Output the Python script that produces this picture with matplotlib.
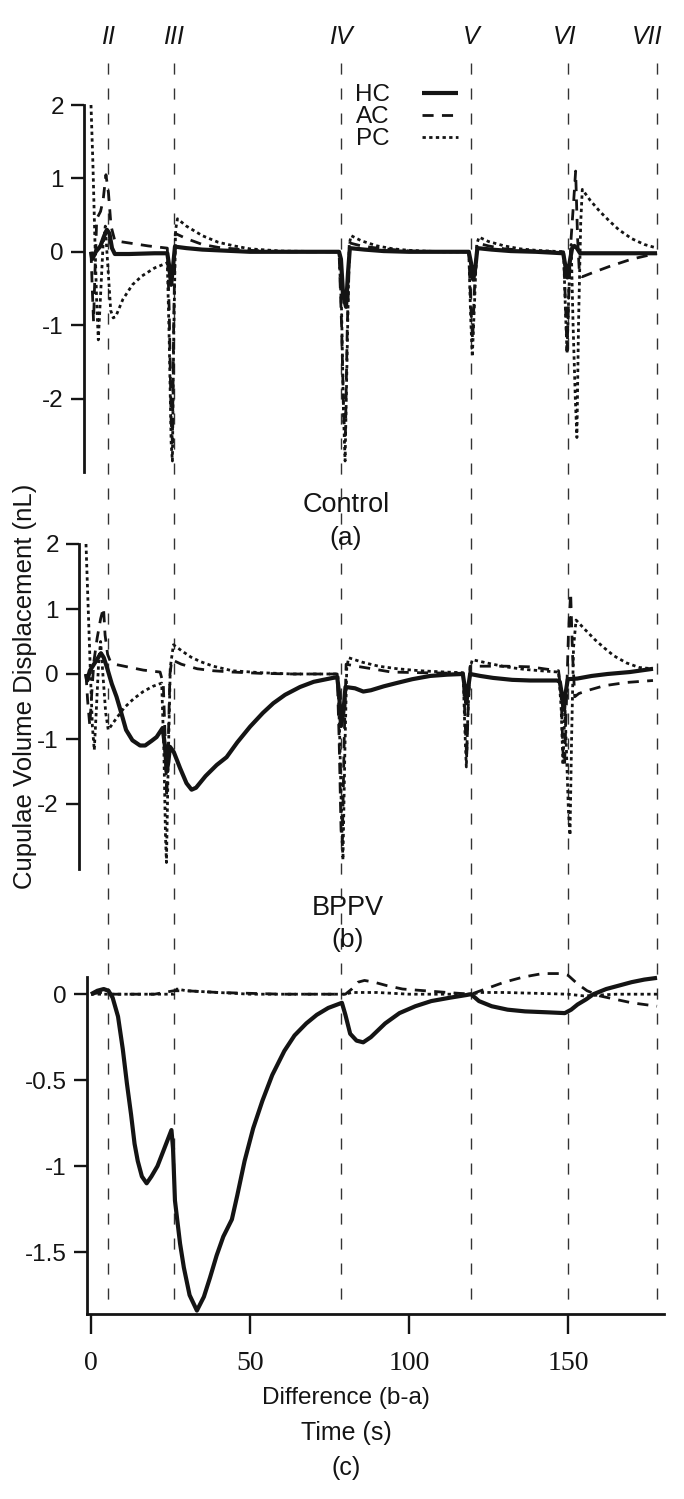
import matplotlib
matplotlib.use('Agg')
import matplotlib.pyplot as plt
from matplotlib.lines import Line2D
from matplotlib.transforms import blended_transform_factory

plt.rcParams['font.family'] = ['Liberation Sans', 'DejaVu Sans']
plt.rcParams['axes.unicode_minus'] = False

# ---------------- data (time s, cupula volume displacement nL) ----------------
event_t = [5.5, 26.0, 78.5, 119.5, 150.0, 178.0]
event_labels = ['II', 'III', 'IV', 'V', 'VI', 'VII']

# (a) Control
hc_a = [(0, 0), (0.4, -0.1), (1.5, 0.0), (3, 0.08), (4, 0.2), (5, 0.3), (5.8, 0.25), (6.6, 0.05),
        (7.5, -0.03), (12, -0.03), (20, -0.02), (24, -0.02), (24.6, -0.2), (25.2, -0.45), (25.8, -0.2),
        (26.4, 0.07), (30, 0.05), (35, 0.03), (40, 0.02), (50, 0.0), (78, 0.0), (78.6, -0.1),
        (79.3, -0.6), (80.2, -0.75), (80.8, -0.3), (81.4, 0.05), (86, 0.03), (92, 0.01), (100, 0.0),
        (118.8, 0.0), (119.5, -0.15), (120.2, -0.38), (120.9, -0.2), (121.5, 0.05), (126, 0.03),
        (132, 0.01), (140, 0.0), (148.5, -0.02), (149.2, -0.2), (149.8, -0.35), (150.5, -0.15),
        (151.3, 0.05), (152, 0.08), (152.8, 0.05), (153.8, -0.02), (165, -0.02), (178, -0.02)]
ac_a = [(0, 0), (0.4, -0.5), (0.8, -0.95), (1.3, -0.2), (1.8, 0.45), (3, 0.55), (3.8, 0.7), (4.7, 1.05),
        (5.5, 0.8), (6.3, 0.35), (7.5, 0.15), (12, 0.12), (18, 0.08), (24, 0.05), (24.6, -0.8),
        (25.2, -2.3), (25.6, -2.6), (26.0, -1.0), (26.5, 0.25), (30, 0.18), (35, 0.1), (40, 0.06),
        (50, 0.02), (60, 0.0), (78, 0.0), (78.8, -1.0), (79.5, -2.3), (80.0, -2.5), (80.6, -1.0),
        (81.4, 0.12), (85, 0.08), (90, 0.05), (100, 0.01), (118.8, 0.0), (119.5, -0.8), (120.0, -1.2),
        (120.6, -0.5), (121.5, 0.12), (125, 0.08), (130, 0.04), (140, 0.01), (148.6, 0.0),
        (149.2, -0.7), (149.7, -1.35), (150.3, -0.5), (151.0, 0.2), (151.8, 0.7), (152.4, 1.1),
        (153.0, 0.2), (153.6, -0.3), (154.5, -0.34), (158, -0.28), (163, -0.2), (170, -0.1), (178, -0.02)]
pc_a = [(0, 2.0), (0.6, 1.2), (1.2, 0.2), (1.8, -0.7), (2.3, -1.2), (3.0, -0.6), (3.8, 0.1), (4.5, 0.35),
        (5.3, -0.2), (6.2, -0.8), (7.0, -0.9), (7.8, -0.88), (10, -0.65), (13, -0.45), (16, -0.33),
        (20, -0.22), (24, -0.15), (24.6, -1.2), (25.2, -2.6), (25.6, -2.85), (26.0, -1.2), (26.6, 0.3),
        (27.2, 0.45), (30, 0.35), (35, 0.22), (40, 0.13), (45, 0.08), (50, 0.04), (60, 0.01), (78, 0.0),
        (78.8, -0.8), (79.4, -2.2), (79.9, -2.85), (80.5, -1.5), (81.2, 0.1), (81.8, 0.22), (85, 0.15),
        (90, 0.08), (95, 0.04), (100, 0.02), (110, 0.0), (118.8, 0.0), (119.4, -0.9), (119.9, -1.43),
        (120.6, -0.7), (121.3, 0.1), (122, 0.2), (125, 0.14), (130, 0.08), (135, 0.04), (140, 0.02),
        (148.6, 0.0), (149.2, -0.8), (149.7, -1.38), (150.3, -0.5), (151.0, 0.1), (151.6, -1.0),
        (152.3, -2.0), (152.8, -2.53), (153.3, -1.0), (154.0, 0.4), (154.5, 0.85), (157, 0.7),
        (160, 0.55), (163, 0.42), (166, 0.3), (170, 0.18), (174, 0.1), (178, 0.05)]

# (b) BPPV
hc_b = [(0, 0), (0.4, -0.1), (1.2, 0.05), (2.5, 0.15), (4.7, 0.32), (5.6, 0.25), (6.6, 0.1), (8.1, -0.15),
        (9.6, -0.35), (11.1, -0.6), (12.6, -0.86), (14.6, -1.02), (17, -1.1), (18.6, -1.1), (20.6, -1.03),
        (22.2, -0.97), (24.1, -0.83), (24.8, -1.1), (25.4, -1.5), (25.9, -1.35), (26.4, -1.12),
        (27.6, -1.2), (29.6, -1.45), (31.6, -1.68), (33.2, -1.78), (34.6, -1.75), (37.6, -1.57),
        (41.1, -1.4), (44.2, -1.28), (47.6, -1.05), (51.6, -0.81), (55.6, -0.6), (58.9, -0.45),
        (62.6, -0.32), (67.3, -0.2), (71.6, -0.12), (77.6, -0.06), (79.0, -0.05), (79.6, -0.3),
        (80.2, -0.8), (80.9, -0.6), (81.6, -0.2), (84.6, -0.22), (87.2, -0.27), (89.6, -0.25),
        (93.6, -0.19), (97.6, -0.14), (102.6, -0.08), (108.2, -0.03), (113.6, -0.01), (118.5, 0.0),
        (119.1, -0.2), (119.6, -0.45), (120.2, -0.2), (120.8, 0.0), (124, -0.03), (128, -0.06),
        (134, -0.09), (139.6, -0.1), (148.1, -0.1), (149.0, -0.12), (149.6, -0.3), (150.2, -0.55),
        (150.8, -0.3), (151.5, -0.08), (154.5, -0.07), (159, -0.03), (164, 0.0), (171, 0.03),
        (178.3, 0.08)]
ac_b = [(0, 0), (0.5, -0.4), (1.2, -0.8), (1.8, -0.3), (2.5, 0.2), (3.5, 0.55), (4.6, 0.85), (5.5, 1.02),
        (6.0, 0.6), (6.8, 0.3), (7.6, 0.2), (9, 0.15), (13, 0.11), (18, 0.06), (23.3, 0.03),
        (24.3, -0.15), (24.9, -1.0), (25.4, -1.9), (25.9, -1.0), (26.4, 0.0), (27, 0.22), (30, 0.15),
        (35, 0.08), (40, 0.05), (46, 0.03), (55, 0.01), (65, 0.0), (79.0, 0.0), (79.6, -1.0),
        (80.2, -2.4), (80.6, -2.6), (81.2, -1.0), (81.8, 0.15), (85, 0.12), (90, 0.08), (96, 0.03),
        (105, 0.02), (118.6, 0.01), (119.2, -0.7), (119.7, -1.3), (120.2, -0.5), (120.8, 0.12),
        (126, 0.12), (132, 0.12), (140, 0.11), (144, 0.08), (148.6, 0.05), (149.4, -0.3), (150.0, -1.2),
        (150.5, -1.4), (151.1, -0.4), (151.7, 0.6), (152.4, 1.25), (153.0, 0.3), (153.7, -0.35),
        (155, -0.3), (158, -0.25), (163, -0.18), (170, -0.13), (178.3, -0.1)]
pc_b = [(0, 2.0), (0.7, 1.0), (1.4, 0.0), (2.0, -0.8), (2.6, -1.17), (3.3, -0.5), (4.0, 0.2), (4.6, 0.5),
        (5.3, 0.0), (6.2, -0.6), (7.0, -0.86), (9, -0.72), (12, -0.52), (15, -0.38), (18, -0.27),
        (21, -0.19), (23.8, -0.14), (24.5, -1.2), (25.0, -2.5), (25.3, -2.9), (25.8, -1.5), (26.5, 0.1),
        (27.5, 0.45), (30, 0.36), (33, 0.26), (36, 0.19), (40, 0.12), (46, 0.05), (55, 0.02), (65, 0.0),
        (79.2, 0.0), (79.8, -1.0), (80.4, -2.3), (80.8, -2.86), (81.4, -1.2), (82.0, 0.1), (82.6, 0.25),
        (87, 0.18), (92, 0.12), (98, 0.08), (105, 0.05), (113, 0.03), (118.6, 0.02), (119.1, -0.8),
        (119.6, -1.43), (120.1, -0.6), (120.8, 0.1), (121.5, 0.22), (127, 0.16), (132, 0.11),
        (138, 0.07), (143, 0.05), (148.6, 0.03), (149.4, -0.5), (150.0, -1.4), (150.6, -0.5),
        (151.1, -1.2), (151.7, -2.1), (152.2, -2.48), (152.7, -1.0), (153.3, 0.4), (154.1, 0.83),
        (157, 0.68), (160, 0.53), (163, 0.4), (166, 0.28), (170, 0.17), (174, 0.1), (178.3, 0.08)]

# (c) Difference (b-a)
hc_c = [(0, 0), (2, 0.02), (4, 0.03), (5.5, 0.02), (6.8, -0.02), (8.5, -0.13), (10, -0.32), (11.3, -0.52),
        (12.6, -0.7), (13.7, -0.87), (14.7, -0.97), (16, -1.06), (17.5, -1.1), (19, -1.06), (20.9, -1.0),
        (23, -0.9), (25.3, -0.79), (25.8, -0.9), (26.4, -1.2), (28, -1.45), (29.2, -1.59), (31, -1.75),
        (33.3, -1.84), (35.5, -1.76), (37.4, -1.65), (39.5, -1.52), (41.6, -1.41), (44.3, -1.31),
        (46, -1.17), (48.3, -0.97), (51, -0.78), (53.9, -0.62), (57, -0.47), (60.8, -0.33), (64, -0.24),
        (67.7, -0.17), (71, -0.12), (74.6, -0.08), (78.9, -0.05), (80, -0.12), (81.5, -0.23),
        (83.5, -0.27), (85.6, -0.28), (88, -0.25), (92.5, -0.17), (97, -0.11), (102, -0.07),
        (107, -0.04), (113, -0.02), (118, -0.005), (119.5, 0.0), (122, -0.04), (126, -0.07),
        (131, -0.09), (136.5, -0.1), (143, -0.105), (149, -0.11), (151, -0.09), (153, -0.06),
        (155.7, -0.03), (158, 0.0), (162, 0.03), (166, 0.05), (170, 0.07), (174, 0.085), (178, 0.095)]
ac_c = [(0, 0), (3, 0.01), (6, 0.0), (20, 0.0), (26, 0.02), (30, 0.02), (40, 0.01), (60, 0.0), (80, 0.0),
        (82, 0.03), (84, 0.07), (86, 0.08), (89, 0.07), (93, 0.05), (98, 0.03), (105, 0.02), (112, 0.01),
        (119.5, 0.0), (124, 0.03), (130, 0.07), (136, 0.1), (142, 0.12), (148, 0.12), (150, 0.11),
        (153, 0.06), (156, 0.02), (160, -0.01), (165, -0.03), (170, -0.05), (178, -0.07)]
pc_c = [(0, 0), (10, 0.0), (26, 0.0), (27, 0.03), (30, 0.02), (40, 0.01), (50, 0.0), (80, 0.0), (82, 0.01),
        (90, 0.01), (100, 0.0), (120, 0.0), (122, 0.01), (130, 0.01), (150, 0.0), (155, -0.01),
        (165, 0.0), (178, 0.0)]

ylabel = 'Cupulae Volume Displacement (nL)'

# ---------------- figure ----------------
W, H = 684, 1499
fig = plt.figure(figsize=(W / 100, H / 100), dpi=100)
INK = '#141414'
PXS = 3.18          # pixels per second
RIGHT = 664

def px_axes(l, t, r, b):
    return fig.add_axes([l / W, 1 - b / H, (r - l) / W, (b - t) / H])

def xl(left_px, origin_px):
    return ((left_px - origin_px) / PXS, (RIGHT - origin_px) / PXS)

styles = dict(
    hc=dict(color=INK, lw=3.0, ls='-', solid_capstyle='butt', solid_joinstyle='round'),
    ac=dict(color=INK, lw=2.0, ls=(0, (4.0, 3.0))),
    pc=dict(color=INK, lw=2.0, ls=(0, (1.2, 1.2))),
)

def draw(ax, pc, ac, hc):
    lines = {}
    for key, data in (('pc', pc), ('ac', ac), ('hc', hc)):
        t = [p[0] for p in data]
        v = [p[1] for p in data]
        lines[key], = ax.plot(t, v, **styles[key], clip_on=False)
    return lines

def style_axis(ax, bottom=False):
    for s in ('top', 'right'):
        ax.spines[s].set_visible(False)
    ax.spines['left'].set_linewidth(2.0)
    ax.spines['left'].set_color(INK)
    ax.tick_params(axis='y', direction='out', length=9.5, width=1.7, color=INK,
                   labelsize=17.5, pad=5, labelcolor=INK)
    if bottom:
        ax.spines['bottom'].set_linewidth(2.0)
        ax.spines['bottom'].set_color(INK)
        ax.tick_params(axis='x', direction='out', length=14.5, width=1.7, color=INK,
                       labelsize=20, pad=12, labelcolor=INK)
        for lab in ax.get_xticklabels():
            lab.set_family(['Liberation Serif', 'DejaVu Serif'])
    else:
        ax.spines['bottom'].set_visible(False)
        ax.set_xticks([])
    ax.patch.set_visible(False)

# panel a
ax_a = px_axes(84, 105, RIGHT, 472)
la = draw(ax_a, pc_a, ac_a, hc_a)
ax_a.set_xlim(*xl(84, 91))
ax_a.set_ylim(-3.0, 2.0)
ax_a.set_yticks([-2, -1, 0, 1, 2])
style_axis(ax_a)

# panel b
ax_b = px_axes(79, 544, RIGHT, 869)
draw(ax_b, pc_b, ac_b, hc_b)
ax_b.set_xlim(*xl(79, 86))
ax_b.set_ylim(-3.0, 2.0)
ax_b.set_yticks([-2, -1, 0, 1, 2])
style_axis(ax_b)

# panel c
ax_c = px_axes(87, 977, RIGHT, 1314)
draw(ax_c, pc_c, ac_c, hc_c)
ax_c.set_xlim(*xl(87, 91))
ax_c.set_ylim(-1.86, 0.1)
ax_c.set_yticks([-1.5, -1, -0.5, 0])
ax_c.set_yticklabels(['-1.5', '-1', '-0.5', '0'])
ax_c.set_xticks([0, 50, 100, 150])
ax_c.set_xticklabels(['0', '50', '100', '150'])
style_axis(ax_c, bottom=True)

# event guide lines through all panels
tr = blended_transform_factory(ax_c.transData, fig.transFigure)
for t in event_t:
    fig.add_artist(Line2D([t, t], [1 - 63 / H, 1 - 1313 / H], transform=tr, color='#333333',
                          lw=1.0, ls=(0, (8, 10)), zorder=0))
label_x = [5.5, 26.0, 78.5, 119.5, 149.0, 175.0]
for x, lab in zip(label_x, event_labels):
    fig.text(x, 1 - 37 / H, lab, transform=tr, ha='center', va='center', fontsize=18,
             style='italic', color=INK)

# legend (labels before handles)
fig.legend([la['hc'], la['ac'], la['pc']], ['HC', 'AC', 'PC'], loc='upper left',
           bbox_to_anchor=(355 / W, 1 - 84 / H), bbox_transform=fig.transFigure,
           frameon=False, markerfirst=False, fontsize=17.5, handlelength=1.5,
           handletextpad=1.3, labelspacing=0.0, borderpad=0, borderaxespad=0,
           labelcolor=INK)

# panel captions
def ftext(x, y, s, size, fam=None):
    fig.text(x / W, 1 - y / H, s, ha='center', va='center', fontsize=size, color=INK,
             family=fam if fam else ['Liberation Sans', 'DejaVu Sans'])

NARROW = ['Liberation Sans Narrow', 'Liberation Sans', 'DejaVu Sans']
ftext(346, 505, 'Control', 19.5, NARROW)
ftext(346, 538, '(a)', 19, NARROW)
ftext(348, 908, 'BPPV', 19.5, NARROW)
ftext(348, 940, '(b)', 19, NARROW)
ftext(346, 1398, 'Difference (b-a)', 17.5, NARROW)
ftext(346, 1433, 'Time (s)', 18, NARROW)
ftext(346, 1468, '(c)', 18, NARROW)

fig.text(25 / W, 1 - 686 / H, ylabel, rotation=90, ha='center', va='center',
         fontsize=18.5, color=INK)

fig.savefig('out.png', dpi=100)
